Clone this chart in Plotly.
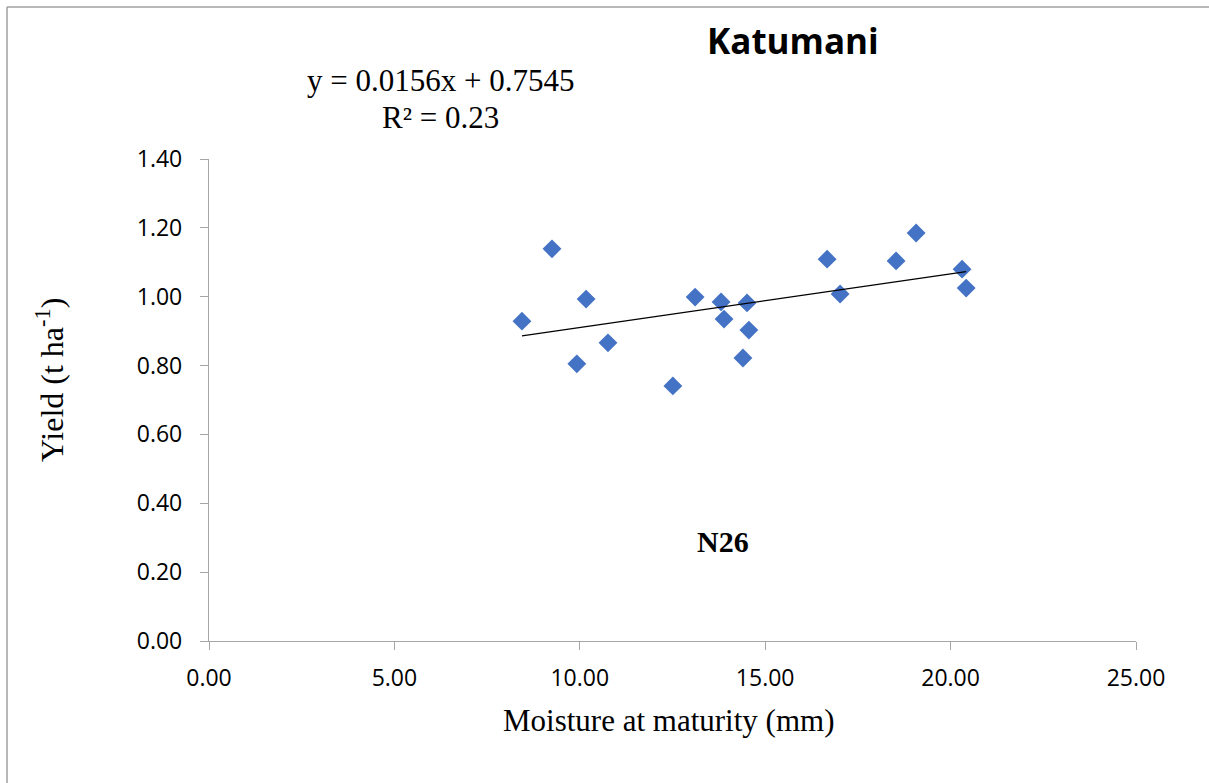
import numpy as np
import plotly.graph_objects as go

# Data
moisture_mm = [8.44, 9.25, 9.92, 10.17, 10.76, 12.51, 13.11, 13.81, 13.89, 14.40,
               14.51, 14.56, 16.67, 17.02, 18.53, 19.07, 20.31, 20.42]
yield_t_ha = [0.929, 1.139, 0.805, 0.993, 0.866, 0.741, 0.999, 0.985, 0.935, 0.822,
              0.982, 0.903, 1.109, 1.008, 1.104, 1.185, 1.080, 1.025]
trend_slope = 0.0156
trend_intercept = 0.7545
r_squared = 0.23
x_tick_vals = [0, 5, 10, 15, 20, 25]
y_tick_vals = [0, 0.2, 0.4, 0.6, 0.8, 1.0, 1.2, 1.4]

W, H = 1209, 783
L, R, T, B = 209, 73, 159, 142
PW, PH = W - L - R, H - T - B


def px(x):
    return (x - L) / PW


def py(y):
    return (H - B - y) / PH


trend_x = np.array([min(moisture_mm), max(moisture_mm)])
trend_y = trend_slope * trend_x + trend_intercept

fig = go.Figure()
fig.add_trace(go.Scatter(
    x=moisture_mm, y=yield_t_ha, mode="markers",
    marker=dict(symbol="diamond", size=14.5, color="#4472C4"),
    showlegend=False, hoverinfo="skip"))
fig.add_trace(go.Scatter(
    x=trend_x, y=trend_y, mode="lines",
    line=dict(color="black", width=1.3),
    showlegend=False, hoverinfo="skip"))

axis_common = dict(
    showgrid=False, zeroline=False, showline=True, linecolor="#a6a6a6", linewidth=1.3,
    ticks="outside", ticklen=8, tickcolor="#a6a6a6", tickwidth=1.3,
    tickfont=dict(family="Open Sans", size=23, color="black"))

fig.update_xaxes(range=[0, 25], tickvals=x_tick_vals, ticklabelstandoff=8,
                 ticktext=[f"{v:.2f}" for v in x_tick_vals], **axis_common)
fig.update_yaxes(range=[0, 1.4], tickvals=y_tick_vals, ticklabelstandoff=13,
                 ticktext=[f"{v:.2f}" for v in y_tick_vals], **axis_common)

serif = "Liberation Serif"
ann = [
    dict(text="<b>Katumani</b>", x=px(793), y=py(41),
         font=dict(family="Open Sans", size=35, color="black")),
    dict(text=f"y = {trend_slope}x + {trend_intercept}", x=px(440), y=py(81),
         font=dict(family=serif, size=31, color="black")),
    dict(text=f"R² = {r_squared}", x=px(440), y=py(117),
         font=dict(family=serif, size=31, color="black")),
    dict(text="<b>N26</b>", x=px(723), y=py(541),
         font=dict(family=serif, size=30, color="black")),
    dict(text="Moisture at maturity (mm)", x=px(668), y=py(720),
         font=dict(family=serif, size=31, color="black")),
    dict(text="Yield (t ha<sup>-1</sup>)", x=px(50), y=py(380), textangle=-90,
         font=dict(family=serif, size=32, color="black")),
]
for a in ann:
    a.update(xref="paper", yref="paper", showarrow=False,
             xanchor="center", yanchor="middle")
fig.update_layout(annotations=ann)

# Outer chart border (gray)
fig.add_shape(type="line", xref="paper", yref="paper",
              x0=px(7), y0=py(7), x1=px(1215), y1=py(7),
              line=dict(color="#a0a0a0", width=1.5))
fig.add_shape(type="line", xref="paper", yref="paper",
              x0=px(7), y0=py(7), x1=px(7), y1=py(790),
              line=dict(color="#a0a0a0", width=1.5))

fig.update_layout(
    width=W, height=H,
    margin=dict(l=L, r=R, t=T, b=B),
    paper_bgcolor="white", plot_bgcolor="white",
    showlegend=False)

fig.write_html("out.html", config={"displayModeBar": False})
